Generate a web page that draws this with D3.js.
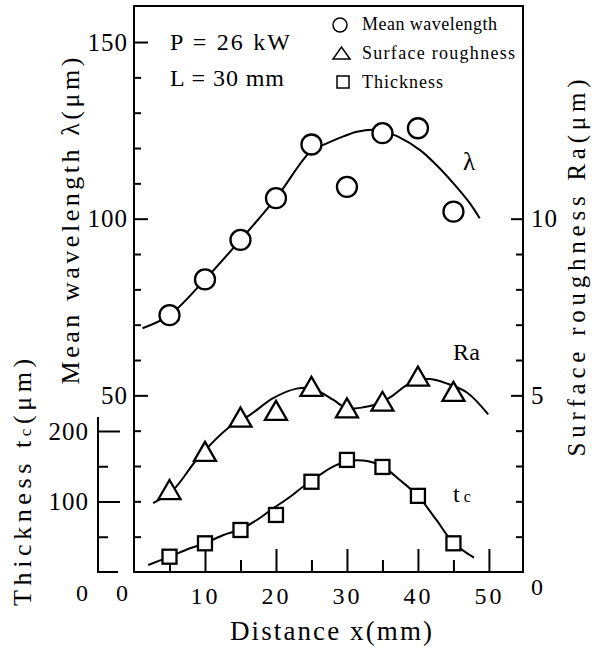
<!DOCTYPE html>
<html><head><meta charset="utf-8">
<script src="https://cdn.jsdelivr.net/npm/d3@7"></script>
<style>body{margin:0;background:#fff}svg{display:block}</style>
</head><body><svg id="c" width="592" height="648"></svg>
<script>
// ---- data ----
const distance   = [5, 10, 15, 20, 25, 30, 35, 40, 45];
const wavelength = [72.7, 82.8, 94, 105.8, 121, 109, 124.2, 125.6, 102];
const roughness  = [2.32, 3.4, 4.37, 4.56, 5.24, 4.63, 4.82, 5.53, 5.1];
const thickness  = [21.7, 40.7, 59.6, 80.9, 128, 159, 149, 108, 40.7];

// fitted curves
const lambdaFitX = [1.2, 5, 10, 15, 20, 25, 27, 29.5, 31.4, 33.7, 35.5, 37.2, 40.3, 42.6, 45, 47.3, 48.7];
const lambdaFitY = [69, 72.7, 82.8, 94, 105.8, 119.3, 121.2, 123.3, 124.6, 125.2, 124.5, 123.2, 119.4, 115.2, 110, 104.4, 100.1];
const raFitX = [2.7, 5.5, 9, 13.5, 16.3, 19.6, 22.9, 25, 28.1, 29.5, 31, 32.3, 33.7, 35, 36.5, 38.4, 40, 41.7, 44, 46.9, 49.9];
const raFitY = [1.95, 2.32, 3.22, 4.11, 4.44, 4.92, 5.19, 5.2, 4.87, 4.68, 4.63, 4.66, 4.72, 4.82, 5.0, 5.29, 5.43, 5.46, 5.34, 5.08, 4.46];
const tcFitX = [2, 5, 7.9, 10, 12.6, 15, 17.3, 19.6, 22, 23.8, 25, 27.6, 30, 31.5, 33, 35, 37.5, 40, 42.6, 45, 47.9];
const tcFitY = [10, 21.7, 33.6, 40.7, 52.5, 60.5, 73.8, 90.3, 106.8, 121, 129, 147, 157, 158.5, 157, 150, 130, 108, 73.8, 41.5, 20.3];

// ticks / labels
const xMajor = [10, 20, 30, 40, 50];
const xMinor = [5, 15, 25, 35, 45];
const lambdaMajor = [50, 100, 150];
const lambdaMinor = [10, 20, 30, 40, 60, 70, 80, 90, 110, 120, 130, 140];
const raMajor = [5, 10];
const raMinor = [1, 2, 3, 4, 6, 7, 8, 9];
const tcMajor = [100, 200];
const tcMinor = [50, 150];
const legendLabels = ["Mean wavelength", "Surface roughness", "Thickness"];

// ---- layout ----
const svg = d3.select("#c");
const L = 134, R = 523, T = 6, B = 572;
const FONT = "'Liberation Serif', 'DejaVu Serif', serif";

const x = d3.scaleLinear().domain([0, 54.8]).range([L, R]);
const yL = d3.scaleLinear().domain([0, 160.2]).range([B, T]);
const yR = d3.scaleLinear().domain([0, 16.02]).range([B, T]);
const yT = d3.scaleLinear().domain([0, 220]).range([B, B - 220 * 0.705]);

function styleAxis(g, size) {
  g.select(".domain").remove();
  g.selectAll("line").attr("stroke", "#000").attr("stroke-width", 2);
  g.selectAll("text").attr("font-family", FONT).attr("font-size", size).attr("fill", "#000");
}

// X axis
svg.append("g").attr("transform", `translate(0,${B})`)
  .call(d3.axisBottom(x).tickValues(xMinor).tickSize(-12).tickFormat(""))
  .call(g => styleAxis(g, 24));
svg.append("g").attr("transform", `translate(0,${B})`)
  .call(d3.axisBottom(x).tickValues(xMajor).tickSize(-23).tickPadding(15).tickFormat(d3.format("d")))
  .call(g => styleAxis(g, 24))
  .call(g => g.selectAll("text").attr("letter-spacing", 3));

// Left lambda axis
svg.append("g").attr("transform", `translate(${L},0)`)
  .call(d3.axisLeft(yL).tickValues(lambdaMinor).tickSize(-7).tickFormat(""))
  .call(g => styleAxis(g, 25));
svg.append("g").attr("transform", `translate(${L},0)`)
  .call(d3.axisLeft(yL).tickValues(lambdaMajor).tickSize(-14).tickPadding(6).tickFormat(d3.format("d")))
  .call(g => styleAxis(g, 25))
  .call(g => g.selectAll("text").attr("letter-spacing", 1));

// Right Ra axis
svg.append("g").attr("transform", `translate(${R},0)`)
  .call(d3.axisRight(yR).tickValues(raMinor).tickSize(-7).tickFormat(""))
  .call(g => styleAxis(g, 25));
svg.append("g").attr("transform", `translate(${R},0)`)
  .call(d3.axisRight(yR).tickValues(raMajor).tickSize(-12).tickPadding(8).tickFormat(d3.format("d")))
  .call(g => styleAxis(g, 25))
  .call(g => g.selectAll("text").attr("letter-spacing", 1));

// Thickness axis
const TX = 98;
svg.append("g").attr("transform", `translate(${TX},0)`)
  .call(d3.axisLeft(yT).tickValues(tcMinor).tickSize(-10).tickFormat(""))
  .call(g => styleAxis(g, 25));
svg.append("g").attr("transform", `translate(${TX},0)`)
  .call(d3.axisLeft(yT).tickValues(tcMajor).tickSize(-22).tickPadding(9).tickFormat(d3.format("d")))
  .call(g => styleAxis(g, 25))
  .call(g => g.selectAll("text").attr("letter-spacing", 1));
svg.append("path")
  .attr("d", `M${TX},${yT(220)}V${B}H${TX + 20}`)
  .attr("fill", "none").attr("stroke", "#000").attr("stroke-width", 2);

// frame
svg.append("rect").attr("x", L).attr("y", T).attr("width", R - L).attr("height", B - T)
  .attr("fill", "none").attr("stroke", "#000").attr("stroke-width", 2);

// text helper
function txt(xp, yp, s, size, opts = {}) {
  const t = svg.append("text").attr("x", xp).attr("y", yp)
    .attr("font-family", FONT).attr("font-size", size).attr("fill", "#000")
    .attr("text-anchor", opts.anchor || "start").text(s);
  if (opts.len) t.attr("textLength", opts.len).attr("lengthAdjust", "spacing");
  if (opts.ls) t.attr("letter-spacing", opts.ls);
  return t;
}
// zero labels
txt(x(0) - 12, 601, "0", 24, {anchor: "middle"});
txt(TX - 16, 601, "0", 24, {anchor: "middle"});
txt(R + 14, 595, "0", 24, {anchor: "middle"});

// curves
const line = d3.line().curve(d3.curveCatmullRom.alpha(0.5));
function curve(xs, ys, ysc) {
  svg.append("path").attr("d", line(xs.map((d, i) => [x(d), ysc(ys[i])])))
    .attr("fill", "none").attr("stroke", "#000").attr("stroke-width", 2);
}
curve(lambdaFitX, lambdaFitY, yL);
curve(raFitX, raFitY, yR);
curve(tcFitX, tcFitY, yT);

// markers
svg.append("g").selectAll("circle").data(distance).join("circle")
  .attr("cx", d => x(d)).attr("cy", (d, i) => yL(wavelength[i])).attr("r", 10)
  .attr("fill", "#fff").attr("stroke", "#000").attr("stroke-width", 2.3);
svg.append("g").selectAll("path").data(distance).join("path")
  .attr("d", (d, i) => `M${x(d) - 11},${yR(roughness[i]) + 9}L${x(d) + 11},${yR(roughness[i]) + 9}L${x(d)},${yR(roughness[i]) - 10}Z`)
  .attr("fill", "#fff").attr("stroke", "#000").attr("stroke-width", 2.3).attr("stroke-linejoin", "miter");
svg.append("g").selectAll("rect").data(distance).join("rect")
  .attr("x", d => x(d) - 7).attr("y", (d, i) => yT(thickness[i]) - 7).attr("width", 14).attr("height", 14)
  .attr("fill", "#fff").attr("stroke", "#000").attr("stroke-width", 2.3);

// legend
const lg = svg.append("g");
lg.append("circle").attr("cx", 340).attr("cy", 25).attr("r", 7)
  .attr("fill", "none").attr("stroke", "#000").attr("stroke-width", 1.5);
lg.append("path").attr("d", "M333,59L350,59L341.5,47Z")
  .attr("fill", "none").attr("stroke", "#000").attr("stroke-width", 1.5);
lg.append("rect").attr("x", 337).attr("y", 76).attr("width", 12).attr("height", 12)
  .attr("fill", "none").attr("stroke", "#000").attr("stroke-width", 1.5);
txt(362, 30, legendLabels[0], 18, {len: 135});
txt(362, 59, legendLabels[1], 18, {len: 153});
txt(362, 88, legendLabels[2], 18, {len: 81});

// annotations
txt(170, 50, "P = 26 kW", 24, {len: 120});
txt(170, 86, "L = 30 mm", 24, {len: 114});
txt(463, 170, "λ", 25);
txt(453, 360, "Ra", 24, {len: 27});
const tc = txt(453, 502, "t", 24);
tc.append("tspan").attr("font-size", 16).attr("dx", 4).attr("dy", 0).text("c");

// axis titles
function vtitle(cx, cy, s, size, len) {
  const t = svg.append("text")
    .attr("transform", `translate(${cx},${cy}) rotate(-90)`)
    .attr("text-anchor", "middle").attr("dominant-baseline", "central")
    .attr("font-family", FONT).attr("font-size", size).attr("fill", "#000");
  t.text(s);
  if (len) t.attr("textLength", len).attr("lengthAdjust", "spacing");
  return t;
}
vtitle(70, 221, "Mean wavelength λ(μm)", 26, 327);
vtitle(576, 268, "Surface roughness Ra(μm)", 25, 377);
const th = svg.append("text")
  .attr("transform", `translate(22,480) rotate(-90)`)
  .attr("text-anchor", "middle").attr("dominant-baseline", "central")
  .attr("font-family", FONT).attr("font-size", 26).attr("fill", "#000")
  .attr("letter-spacing", 4.6);
th.append("tspan").text("Thickness t");
th.append("tspan").attr("font-size", 17).attr("dy", 3).text("c");
th.append("tspan").attr("dy", -3).text("(μm)");

txt(331, 640, "Distance x(mm)", 27, {anchor: "middle", len: 202});
</script></body></html>
